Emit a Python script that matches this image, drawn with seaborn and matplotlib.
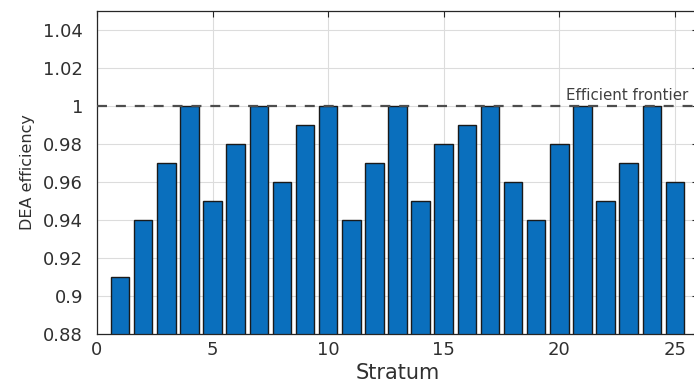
import matplotlib
matplotlib.use("Agg")
import matplotlib.pyplot as plt
import seaborn as sns
import pandas as pd

stratum = list(range(1, 26))
efficiency = [0.91, 0.94, 0.97, 1.00, 0.95, 0.98, 1.00, 0.96, 0.99, 1.00,
              0.94, 0.97, 1.00, 0.95, 0.98, 0.99, 1.00, 0.96, 0.94, 0.98,
              1.00, 0.95, 0.97, 1.00, 0.96]
y_ticks = [0.88, 0.90, 0.92, 0.94, 0.96, 0.98, 1.00, 1.02, 1.04]
y_tick_labels = ["0.88", "0.9", "0.92", "0.94", "0.96", "0.98", "1", "1.02", "1.04"]
x_ticks = [0, 5, 10, 15, 20, 25]
frontier = 1.0

sns.set_style("white")
plt.rcParams['font.family'] = ['DejaVu Sans']

df = pd.DataFrame({"Stratum": stratum, "Eff": efficiency})

fig = plt.figure(figsize=(6.94, 3.84), dpi=100)
ax = fig.add_axes([97/694, 1 - 334/384, (698 - 97)/694, (334 - 11)/384])

ax.grid(True, color="#dcdcdc", linewidth=0.8)
ax.set_axisbelow(True)

sns.barplot(data=df, x="Stratum", y="Eff", native_scale=True, width=0.8,
            color="#0a6fbd", saturation=1, edgecolor="#1a1a1a", linewidth=1.0,
            ax=ax, zorder=2)

ax.axhline(frontier, color="#4d4d4d", linestyle=(0, (4.5, 4)), linewidth=1.6, zorder=3)
ax.text(20.3, frontier + 0.003, "Efficient frontier", fontsize=10.8,
        color="#404040", ha="left", va="baseline", zorder=4)

ax.set_xlim(0, 26)
ax.set_ylim(0.88, 1.05)
ax.set_xticks(x_ticks)
ax.set_yticks(y_ticks)
ax.set_yticklabels(y_tick_labels)
ax.tick_params(direction="in", length=4, labelsize=13, labelcolor="#303030",
               top=True, right=True, color="#262626")
ax.tick_params(axis="y", pad=10)
ax.tick_params(axis="x", pad=5)
ax.set_xlabel("Stratum", fontsize=15, color="#303030", labelpad=3)
ax.set_ylabel("DEA efficiency", fontsize=11.5, color="#303030", labelpad=6)
for s in ax.spines.values():
    s.set_color("#262626")
    s.set_linewidth(0.9)

fig.savefig("out.png", dpi=100)
